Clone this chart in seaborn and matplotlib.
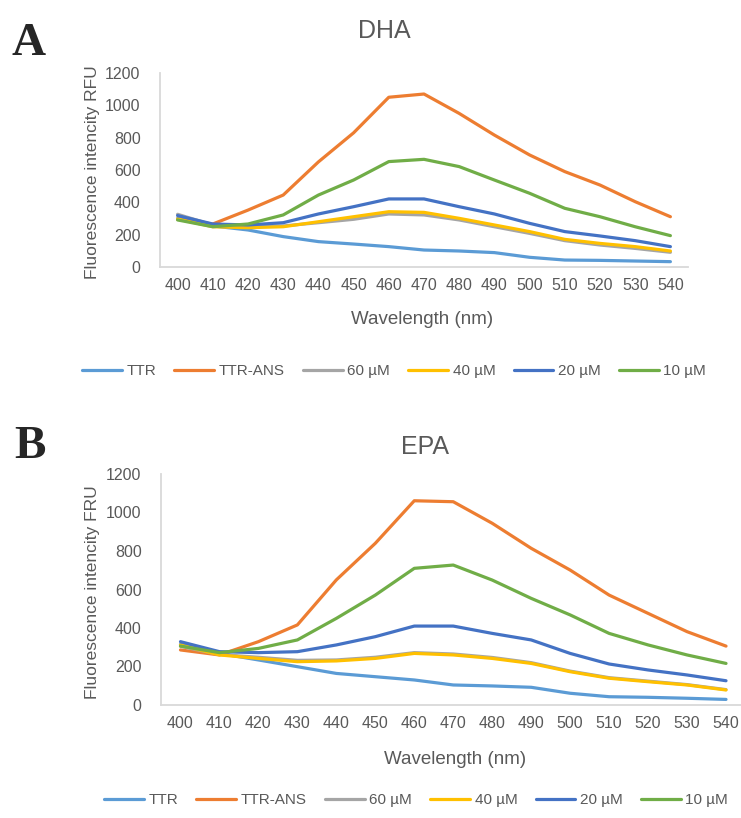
import matplotlib
matplotlib.use('Agg')
import matplotlib.pyplot as plt
import seaborn as sns
import pandas as pd

### Fluorescence spectra (TTR / ANS displacement) for DHA and EPA

wavelengths = [400, 410, 420, 430, 440, 450, 460, 470, 480, 490, 500, 510, 520, 530, 540]
series_names = ['TTR', 'TTR-ANS', '60 µM', '40 µM', '20 µM', '10 µM']
colors = ['#5B9BD5', '#ED7D31', '#A5A5A5', '#FFC000', '#4472C4', '#70AD47']

dha_ttr = [301, 254, 229, 188, 157, 142, 126, 105, 99, 89, 60, 43, 41, 37, 33]
dha_ttr_ans = [295, 266, 352, 445, 650, 830, 1050, 1070, 950, 816, 693, 590, 507, 404, 311]
dha_60 = [326, 260, 254, 254, 274, 295, 328, 322, 291, 249, 208, 163, 136, 115, 91]
dha_40 = [297, 249, 243, 249, 280, 311, 342, 338, 301, 260, 219, 171, 146, 126, 99]
dha_20 = [318, 266, 260, 274, 328, 373, 421, 421, 373, 328, 270, 219, 192, 163, 126]
dha_10 = [291, 249, 266, 322, 445, 538, 652, 666, 621, 538, 456, 363, 311, 249, 194]

epa_ttr = [315, 268, 234, 199, 164, 147, 130, 104, 99, 92, 61, 43, 40, 35, 29]
epa_ttr_ans = [286, 260, 329, 416, 650, 840, 1061, 1056, 944, 814, 701, 571, 476, 381, 306]
epa_60 = [305, 262, 248, 232, 234, 248, 272, 265, 247, 220, 176, 142, 124, 106, 80]
epa_40 = [312, 260, 242, 225, 229, 242, 268, 260, 242, 216, 173, 139, 121, 104, 78]
epa_20 = [329, 277, 272, 277, 312, 355, 410, 410, 372, 338, 268, 213, 182, 156, 126]
epa_10 = [306, 272, 294, 338, 450, 571, 710, 727, 649, 554, 468, 372, 312, 260, 216]

dha = [dha_ttr, dha_ttr_ans, dha_60, dha_40, dha_20, dha_10]
epa = [epa_ttr, epa_ttr_ans, epa_60, epa_40, epa_20, epa_10]

sns.set_style('white')
plt.rcParams['font.family'] = ['Liberation Sans', 'DejaVu Sans']
txt = '#595959'


def long_form(values):
    rows = []
    for name, ys in zip(series_names, values):
        for x, y in zip(wavelengths, ys):
            rows.append({'Wavelength': x, 'RFU': y, 'Sample': name})
    return pd.DataFrame(rows)


def draw_panel(ax, values):
    sns.lineplot(data=long_form(values), x='Wavelength', y='RFU', hue='Sample',
                 palette=dict(zip(series_names, colors)), linewidth=2.3,
                 legend=False, ax=ax, sort=False)
    ax.set_xlim(395, 545)
    ax.set_ylim(0, 1200)
    ax.set_xticks(wavelengths)
    ax.set_yticks(range(0, 1201, 200))
    ax.tick_params(axis='y', length=0, pad=14, labelsize=11.5, labelcolor=txt)
    ax.tick_params(axis='x', length=0, pad=8, labelsize=11.5, labelcolor=txt)
    ax.set_xlabel('')
    ax.set_ylabel('')
    for side in ['top', 'right']:
        ax.spines[side].set_visible(False)
    for side in ['left', 'bottom']:
        ax.spines[side].set_color('#D9D9D9')
        ax.spines[side].set_linewidth(1.3)


W, H = 741, 818
fig = plt.figure(figsize=(W / 100, H / 100), dpi=100)

ax1 = fig.add_axes([160 / W, 1 - 267 / H, 528 / W, 194 / H])
draw_panel(ax1, dha)
ax2 = fig.add_axes([161 / W, 1 - 705 / H, 584.5 / W, 231 / H])
draw_panel(ax2, epa)

# titles, panel letters and axis labels
fig.text(384 / W, 1 - 31 / H, 'DHA', ha='center', va='center', fontsize=18, color=txt)
fig.text(425 / W, 1 - 447 / H, 'EPA', ha='center', va='center', fontsize=18, color=txt)
fig.text(12 / W, 1 - 44 / H, 'A', ha='left', va='center', fontsize=34,
         fontweight='bold', family='Liberation Serif')
fig.text(14 / W, 1 - 447 / H, 'B', ha='left', va='center', fontsize=34,
         fontweight='bold', family='Liberation Serif')
fig.text(92 / W, 1 - 172 / H, 'Fluorescence intencity RFU', rotation=90,
         ha='center', va='center', fontsize=12.5, color=txt)
fig.text(92 / W, 1 - 592 / H, 'Fluorescence intencity FRU', rotation=90,
         ha='center', va='center', fontsize=12.5, color=txt)
fig.text(422 / W, 1 - 320 / H, 'Wavelength (nm)', ha='center', va='center',
         fontsize=13.5, color=txt)
fig.text(455 / W, 1 - 760 / H, 'Wavelength (nm)', ha='center', va='center',
         fontsize=13.5, color=txt)

handles = [plt.Line2D([], [], color=c, lw=2.3) for c in colors]
for y, x in [(371, 394), (800, 416)]:
    fig.legend(handles, series_names, loc='center', bbox_to_anchor=(x / W, 1 - y / H),
               ncol=6, frameon=False, fontsize=11, handlelength=2.6, handletextpad=0.3,
               columnspacing=1.2, labelcolor=txt)

fig.savefig('out.png', dpi=100)
